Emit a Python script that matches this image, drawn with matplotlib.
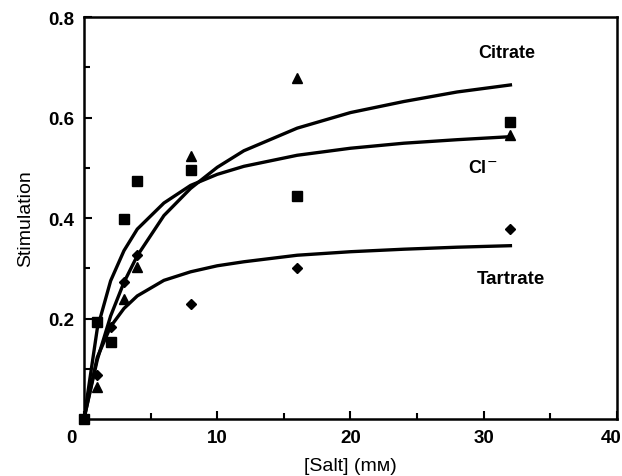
import matplotlib.pyplot as plt
from matplotlib.ticker import MultipleLocator
from matplotlib.transforms import ScaledTranslation

x_pts = [0, 1, 2, 3, 4, 8, 16, 32]
cl_pts = [0.0, 0.193, 0.153, 0.398, 0.474, 0.495, 0.443, 0.592]

tri_x = [1, 3, 4, 8, 16, 32]
citrate_pts = [0.064, 0.239, 0.303, 0.523, 0.678, 0.565]

dia_x = [1, 2, 3, 4, 8, 16, 32]
tartrate_pts = [0.088, 0.183, 0.273, 0.326, 0.228, 0.301, 0.378]

# fitted curves
curve_x = [0, 1, 2, 3, 4, 6, 8, 10, 12, 16, 20, 24, 28, 32]
cl_curve = [0.0, 0.18, 0.275, 0.335, 0.378, 0.43, 0.465, 0.487, 0.503, 0.525, 0.539, 0.549, 0.556, 0.562]
citrate_curve = [0.0, 0.118, 0.205, 0.272, 0.325, 0.405, 0.459, 0.501, 0.534, 0.579, 0.61, 0.632, 0.651, 0.665]
tartrate_curve = [0.0, 0.123, 0.184, 0.22, 0.245, 0.276, 0.293, 0.305, 0.313, 0.326, 0.333, 0.338, 0.342, 0.345]

plt.rcParams['font.family'] = ['Liberation Sans', 'DejaVu Sans']

fig = plt.figure(figsize=(6.22, 4.77), dpi=100)
ax = fig.add_axes([0.135, 0.1195, 0.857, 0.8425])

lw = 2.4
ax.plot(curve_x, cl_curve, color='black', lw=lw, zorder=2)
ax.plot(curve_x, citrate_curve, color='black', lw=lw, zorder=2)
ax.plot(curve_x, tartrate_curve, color='black', lw=lw, zorder=2)

ax.plot(x_pts, cl_pts, 's', color='black', ms=7, ls='none', zorder=3, clip_on=False)
ax.plot(tri_x, citrate_pts, '^', color='black', ms=7.5, ls='none', zorder=3)
ax.plot(dia_x, tartrate_pts, 'D', color='black', ms=5.5, ls='none', zorder=3)

ax.text(31.7, 0.73, 'Citrate', ha='center', va='center', fontsize=13, fontweight='bold')
ax.text(29.9, 0.50, 'Cl$^{-}$', ha='center', va='center', fontsize=13, fontweight='bold')
ax.text(32.0, 0.279, 'Tartrate', ha='center', va='center', fontsize=13.5, fontweight='bold')

ax.set_xlim(0, 40)
ax.set_ylim(0, 0.8)
ax.set_xticks([0, 10, 20, 30, 40])
ax.set_yticks([0.2, 0.4, 0.6, 0.8])
ax.set_yticklabels(['0.2', '0.4', '0.6', '0.8'])
ax.xaxis.set_minor_locator(MultipleLocator(5))
ax.set_yticks([0.1, 0.3, 0.5, 0.7], minor=True)

ax.tick_params(which='both', direction='in', width=1.5, labelsize=13.5)
ax.tick_params(which='major', length=6, pad=7)
ax.tick_params(which='minor', length=4)
for lab in ax.get_xticklabels() + ax.get_yticklabels():
    lab.set_fontweight('bold')

# the end labels sit inward of their ticks in the original
xlabs = ax.get_xticklabels()
xlabs[0].set_transform(xlabs[0].get_transform() + ScaledTranslation(-0.13, 0, fig.dpi_scale_trans))
xlabs[-1].set_transform(xlabs[-1].get_transform() + ScaledTranslation(-0.06, 0, fig.dpi_scale_trans))

for s in ax.spines.values():
    s.set_linewidth(1.8)

ax.set_xlabel('[Salt] (mᴍ)', fontsize=14, labelpad=8)
ax.set_ylabel('Stimulation', fontsize=14, labelpad=10)

fig.savefig('out.png', dpi=100)
